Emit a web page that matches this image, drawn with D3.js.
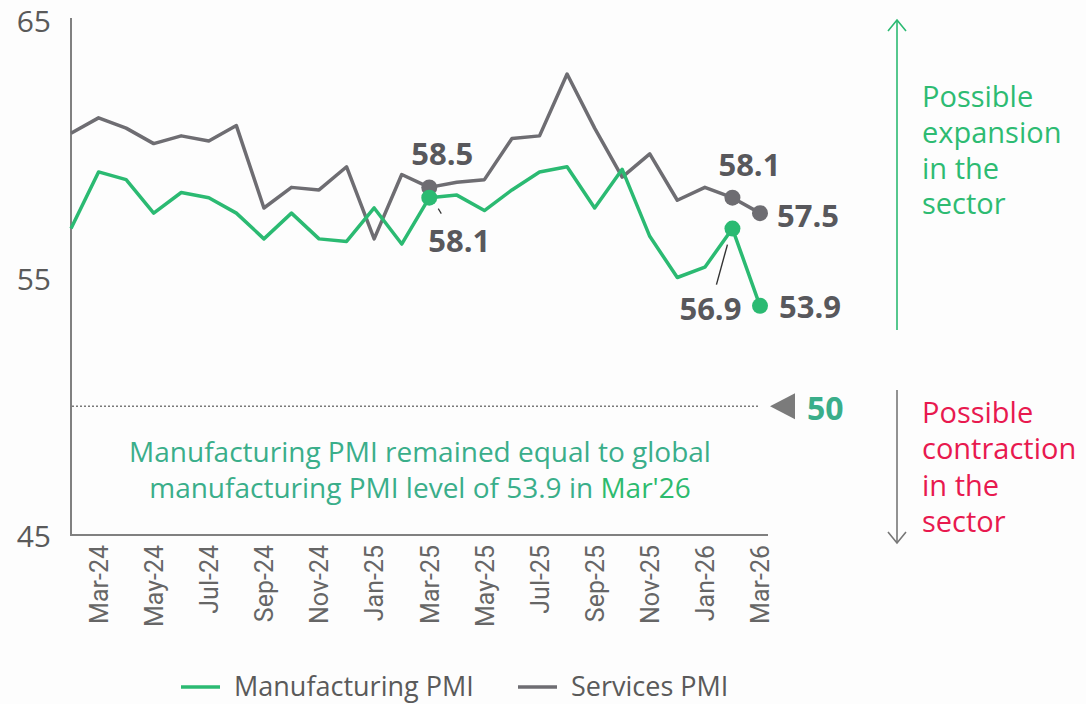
<!DOCTYPE html>
<html>
<head>
<meta charset="utf-8">
<script src="https://cdn.jsdelivr.net/npm/d3@7"></script>
<style>
  html, body { margin: 0; padding: 0; background: #fdfdfd; }
  svg { display: block; }
</style>
</head>
<body>
<svg id="chart" width="1086" height="704"></svg>
<script>
// Monthly PMI readings, Feb-24 to Mar-26
const months = [
  "Feb-24","Mar-24","Apr-24","May-24","Jun-24","Jul-24","Aug-24","Sep-24","Oct-24","Nov-24","Dec-24",
  "Jan-25","Feb-25","Mar-25","Apr-25","May-25","Jun-25","Jul-25","Aug-25","Sep-25","Oct-25","Nov-25","Dec-25",
  "Jan-26","Feb-26","Mar-26"
];
const manufacturing = [56.9, 59.1, 58.8, 57.5, 58.3, 58.1, 57.5, 56.5, 57.5, 56.5, 56.4,
  57.7, 56.3, 58.1, 58.2, 57.6, 58.4, 59.1, 59.3, 57.7, 59.2, 56.6, 55.0, 55.4, 56.9, 53.9];
const services = [60.6, 61.2, 60.8, 60.2, 60.5, 60.3, 60.9, 57.7, 58.5, 58.4, 59.3,
  56.5, 59.0, 58.5, 58.7, 58.8, 60.4, 60.5, 62.9, 60.8, 58.9, 59.8, 58.0, 58.5, 58.1, 57.5];
const yTicks = [45, 55, 65];
const xTickLabels = ["Mar-24","May-24","Jul-24","Sep-24","Nov-24","Jan-25","Mar-25","May-25",
  "Jul-25","Sep-25","Nov-25","Jan-26","Mar-26"];
const threshold = 50;
const seriesNames = ["Manufacturing PMI", "Services PMI"];

const GREEN = "#2bba72";
const GREY = "#6e6d72";
const LABEL = "#58585c";
const AXIS = "#808080";
const FONT = "'Open Sans', sans-serif";

const svg = d3.select("#chart");

const x = d3.scalePoint().domain(months).range([71, 760]);
const y = d3.scaleLinear().domain([45, 65]).range([535, 20]);

// Axes
svg.append("line").attr("x1", 71).attr("x2", 71).attr("y1", y(65) - 2).attr("y2", y(45))
  .attr("stroke", AXIS).attr("stroke-width", 2);
svg.append("line").attr("x1", 70).attr("x2", 768).attr("y1", y(45)).attr("y2", y(45))
  .attr("stroke", AXIS).attr("stroke-width", 2);

svg.append("g").selectAll("text").data(yTicks).join("text")
  .attr("x", 51).attr("y", d => y(d) + 12)
  .attr("text-anchor", "end")
  .attr("font-family", FONT).attr("font-size", 30)
  .attr("fill", "#5a5a5a").text(d => d);

const xAxis = d3.axisBottom(x).tickValues(xTickLabels).tickSize(0).tickPadding(0);
const gx = svg.append("g").attr("transform", `translate(0,${y(45)})`).call(xAxis);
gx.select(".domain").remove();
gx.selectAll("text")
  .attr("font-family", "Roboto, sans-serif").attr("font-size", 25)
  .attr("fill", "#666")
  .attr("transform", "rotate(-90)")
  .attr("text-anchor", "end")
  .attr("x", -10).attr("y", 0).attr("dy", "0.35em");

// Threshold line at 50
svg.append("line").attr("x1", 72).attr("x2", 758).attr("y1", y(threshold)).attr("y2", y(threshold))
  .attr("stroke", "#7a7a7a").attr("stroke-width", 1.6).attr("stroke-dasharray", "2,2");
svg.append("path")
  .attr("d", `M770,${y(threshold)} L795,${y(threshold) - 13} L795,${y(threshold) + 13} Z`)
  .attr("fill", "#7b7b7b");
svg.append("text").attr("x", 807).attr("y", y(threshold) + 14)
  .attr("font-family", FONT).attr("font-weight", 700).attr("font-size", 32)
  .attr("fill", "#3aae8a").text(threshold);

// Lines
const line = d3.line().x((d, i) => x(months[i])).y(d => y(d));
svg.append("path").datum(services).attr("d", line)
  .attr("fill", "none").attr("stroke", GREY).attr("stroke-width", 3.5).attr("stroke-linejoin", "round");
svg.append("path").datum(manufacturing).attr("d", line)
  .attr("fill", "none").attr("stroke", GREEN).attr("stroke-width", 3.5).attr("stroke-linejoin", "round");

// Highlighted points
const marks = [
  { s: services, m: "Mar-25", c: GREY, dx: 13, dy: -22, anchor: "middle" },
  { s: manufacturing, m: "Mar-25", c: GREEN, dx: 30, dy: 54, anchor: "middle" },
  { s: services, m: "Feb-26", c: GREY, dx: 17, dy: -22, anchor: "middle" },
  { s: services, m: "Mar-26", c: GREY, dx: 17, dy: 14, anchor: "start" },
  { s: manufacturing, m: "Feb-26", c: GREEN, dx: -22, dy: 91, anchor: "middle" },
  { s: manufacturing, m: "Mar-26", c: GREEN, dx: 19, dy: 12, anchor: "start" }
];

// Leader lines
const lm = manufacturing[months.indexOf("Mar-25")];
svg.append("line").attr("x1", x("Mar-25") + 9).attr("y1", y(lm) + 11)
  .attr("x2", x("Mar-25") + 12).attr("y2", y(lm) + 16)
  .attr("stroke", "#333").attr("stroke-width", 1.2);
const lf = manufacturing[months.indexOf("Feb-26")];
svg.append("line").attr("x1", x("Feb-26") - 5).attr("y1", y(lf) + 16)
  .attr("x2", x("Feb-26") - 16).attr("y2", y(lf) + 56)
  .attr("stroke", "#333").attr("stroke-width", 1.4);

marks.forEach(k => {
  const v = k.s[months.indexOf(k.m)];
  svg.append("circle").attr("cx", x(k.m)).attr("cy", y(v)).attr("r", 8).attr("fill", k.c);
});
marks.forEach(k => {
  const v = k.s[months.indexOf(k.m)];
  svg.append("text").attr("x", x(k.m) + k.dx).attr("y", y(v) + k.dy)
    .attr("text-anchor", k.anchor)
    .attr("font-family", FONT).attr("font-weight", 700).attr("font-size", 31)
    .attr("fill", LABEL).text(v.toFixed(1));
});

// Expansion / contraction arrows
function arrow(x0, y0, y1, color) {
  const dir = y1 < y0 ? 1 : -1;
  svg.append("line").attr("x1", x0).attr("x2", x0).attr("y1", y0).attr("y2", y1)
    .attr("stroke", color).attr("stroke-width", 1.6);
  svg.append("path")
    .attr("d", `M${x0 - 9},${y1 + dir * 11} L${x0},${y1} L${x0 + 9},${y1 + dir * 11}`)
    .attr("fill", "none").attr("stroke", color).attr("stroke-width", 1.6);
}
arrow(897, 330, 20, GREEN);
arrow(897, 390, 543, "#777");

function block(lines, x0, y0, lh, color) {
  svg.append("g").selectAll("text").data(lines).join("text")
    .attr("x", x0).attr("y", (d, i) => y0 + i * lh)
    .attr("font-family", FONT).attr("font-size", 29)
    .attr("fill", color).text(d => d);
}
block(["Possible", "expansion", "in the", "sector"], 922, 107, 35.8, "#2dbb72");
block(["Possible", "contraction", "in the", "sector"], 922, 423, 36.3, "#e8194f");

// Note under the threshold
const note = svg.append("text").attr("text-anchor", "middle")
  .attr("font-family", FONT).attr("font-size", 28).attr("fill", "#3aae8a");
note.append("tspan").attr("x", 420).attr("y", 462).text("Manufacturing PMI remained equal to global");
const l2 = note.append("tspan").attr("x", 420).attr("y", 498);
l2.append("tspan").text("manufacturing PMI level of 53.9 in ");
l2.append("tspan").attr("fill", "#2dbb6e").text("Mar'26");

// Legend
const legend = svg.append("g").attr("transform", "translate(0,687)");
const legendItems = [
  { name: seriesNames[0], color: GREEN, x: 181 },
  { name: seriesNames[1], color: GREY, x: 518 }
];
legendItems.forEach(it => {
  legend.append("line").attr("x1", it.x).attr("x2", it.x + 39).attr("y1", 0).attr("y2", 0)
    .attr("stroke", it.color).attr("stroke-width", 3.5);
  legend.append("text").attr("x", it.x + 53).attr("y", 9)
    .attr("font-family", FONT).attr("font-size", 27)
    .attr("fill", "#5a5a5a").text(it.name);
});
</script>
</body>
</html>
